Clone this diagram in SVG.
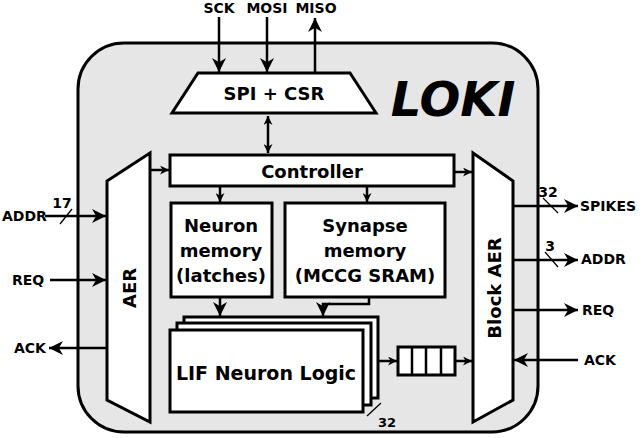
<svg xmlns="http://www.w3.org/2000/svg" width="640" height="438" viewBox="0 0 640 438">
<defs>
<marker id="ah" viewBox="0 0 10 10" refX="10" refY="5" markerWidth="9" markerHeight="9" markerUnits="userSpaceOnUse" orient="auto-start-reverse"><path d="M0,0 L10,5 L0,10 L3,5 Z" fill="#000"/></marker>
<marker id="al" viewBox="0 0 10 10" refX="10" refY="5" markerWidth="14" markerHeight="14" markerUnits="userSpaceOnUse" orient="auto-start-reverse"><path d="M0,0 L10,5 L0,10 L3,5 Z" fill="#000"/></marker>
</defs>
<style>
.b{fill:#fff;stroke:#000;stroke-width:3}
.t{font-family:"DejaVu Sans",sans-serif;font-weight:bold;fill:#000}
.w{stroke:#000;stroke-width:2.5;fill:none}
.s{stroke:#000;stroke-width:1.3}
</style>
<rect id="chip" x="78" y="43" width="460" height="389" rx="46" fill="#e6e6e6" stroke="#000" stroke-width="3"/>
<text class="t" x="453" y="116" font-size="48" font-style="italic" text-anchor="middle">LOKI</text>
<g id="spi"><polygon class="b" points="198,73 350,73 376,113 172,113"/><text class="t" x="274" y="100" font-size="18" text-anchor="middle">SPI + CSR</text></g>
<g id="controller"><rect class="b" x="170" y="155" width="284" height="31"/><text class="t" x="312" y="178" font-size="18" text-anchor="middle">Controller</text></g>
<g id="aer"><polygon class="b" points="150,153 107,181 107,400 150,422"/><text class="t" x="0" y="0" font-size="18" text-anchor="middle" transform="translate(136,288) rotate(-90)">AER</text></g>
<g id="blockaer"><polygon class="b" points="473,153 513,181 513,400 473,422"/><text class="t" x="0" y="0" font-size="18" text-anchor="middle" transform="translate(501,288) rotate(-90)">Block AER</text></g>
<g id="neuronmem"><rect class="b" x="171" y="203" width="101" height="94"/><text class="t" font-size="18" text-anchor="middle"><tspan x="221" y="232">Neuron</tspan><tspan x="221" y="257">memory</tspan><tspan x="221" y="282">(latches)</tspan></text></g>
<g id="synmem"><rect class="b" x="285" y="203" width="160" height="94"/><text class="t" font-size="18" text-anchor="middle"><tspan x="365" y="232">Synapse</tspan><tspan x="365" y="257">memory</tspan><tspan x="365" y="282">(MCCG SRAM)</tspan></text></g>
<g id="lif"><rect class="b" x="184" y="317" width="194" height="81"/><rect class="b" x="177" y="323" width="194" height="82"/><rect class="b" x="170" y="330" width="193" height="82"/><text class="t" x="266" y="380" font-size="19" text-anchor="middle">LIF Neuron Logic</text>
<line class="s" x1="367" y1="416" x2="381" y2="403"/><text class="t" x="378" y="427" font-size="13">32</text></g>
<g id="fifo"><rect class="b" x="398" y="347" width="57" height="28" stroke-width="2.5"/><path class="w" d="M412,347V375M426,347V375M441,347V375"/></g>
<g id="labels" class="t" font-size="14">
<text x="219" y="13" text-anchor="middle">SCK</text><text x="267" y="13" text-anchor="middle">MOSI</text><text x="316" y="13" text-anchor="middle">MISO</text>
<text x="2" y="221">ADDR</text><text x="62" y="208" text-anchor="middle">17</text><text x="12" y="285">REQ</text><text x="14" y="353">ACK</text>
<text x="580" y="211">SPIKES</text><text x="548" y="197" text-anchor="middle">32</text><text x="581" y="264">ADDR</text><text x="550" y="251" text-anchor="middle">3</text><text x="582" y="315">REQ</text><text x="584" y="365">ACK</text>
</g>
<g id="connectors">
<path class="w" d="M219,17V72" marker-end="url(#al)"/>
<path class="w" d="M267,17V72" marker-end="url(#al)"/>
<path class="w" d="M315,73V18" marker-end="url(#al)"/>
<path class="w" stroke-width="2" d="M268,116V153" marker-start="url(#ah)" marker-end="url(#ah)"/>
<path class="w" stroke-width="2" d="M150,170H169" marker-end="url(#ah)"/>
<path class="w" stroke-width="2" d="M455,172H472" marker-end="url(#ah)"/>
<path class="w" stroke-width="2" d="M220,186V202" marker-end="url(#ah)"/>
<path class="w" stroke-width="2" d="M367,186V202" marker-end="url(#ah)"/>
<path class="w" stroke-width="2" d="M220,297V316" marker-end="url(#al)"/>
<path class="w" stroke-width="2" d="M369,297V304H323V316" marker-end="url(#al)"/>
<path class="w" stroke-width="2" d="M378,361H397" marker-end="url(#ah)"/>
<path class="w" stroke-width="2" d="M455,361H472" marker-end="url(#ah)"/>
<path class="w" d="M45,216H106" marker-end="url(#al)"/><line class="s" x1="60" y1="224" x2="72" y2="209"/>
<path class="w" d="M50,280H106" marker-end="url(#al)"/>
<path class="w" d="M107,348H49" marker-end="url(#al)"/>
<path class="w" d="M513,206H578" marker-end="url(#al)"/><line class="s" x1="543" y1="198" x2="558" y2="213"/>
<path class="w" d="M513,260H578" marker-end="url(#al)"/><line class="s" x1="545" y1="252" x2="558" y2="267"/>
<path class="w" d="M513,310H578" marker-end="url(#al)"/>
<path class="w" d="M578,360H514" marker-end="url(#al)"/>
</g>
</svg>
